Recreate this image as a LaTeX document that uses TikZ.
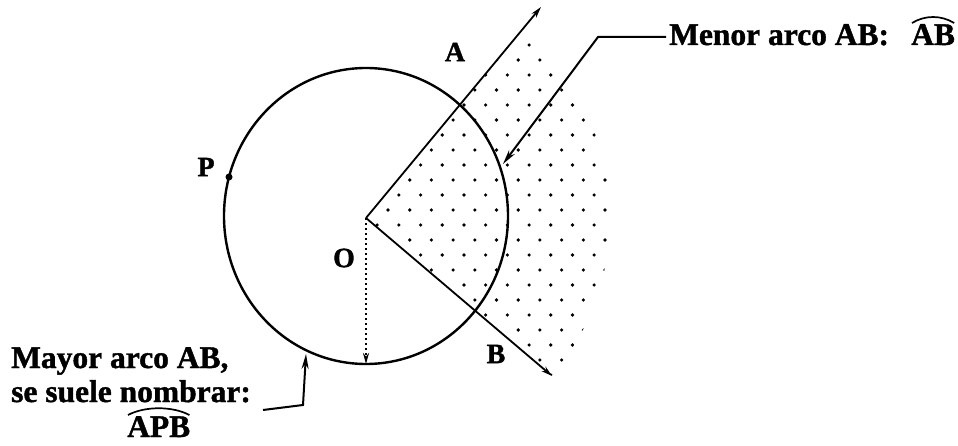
\documentclass[tikz,border=0pt]{standalone}
\usepackage{fontspec}
\setmainfont{Liberation Serif}[BoldFeatures={FakeBold=1.3}]
\usetikzlibrary{arrows.meta,calc}
\begin{document}
\begin{tikzpicture}[x=1pt,y=-1pt,
  txt/.style={font=\bfseries\fontsize{31.5}{36}\selectfont, inner sep=0pt},
  ptlabel/.style={font=\bfseries\fontsize{28}{32}\selectfont, inner sep=0pt},
  ray/.style={line width=1.8pt, -{Stealth[length=11pt,width=6pt]}},
  leader/.style={line width=2pt, -{Stealth[length=15pt,width=7pt]}},
  arcmark/.style={line width=1.7pt},
  dotfill/.style={fill=black}]
\useasboundingbox[fill=white] (0,0) rectangle (958,446);

% points
\coordinate (O) at (366,218);
\coordinate (C) at (366,216);
\coordinate (Atip) at (541,7);
\coordinate (Btip) at (552,376);
\coordinate (bottom) at (366,364);

% dotted sector
\begin{scope}
  \clip (O) -- ++(-50.3:244) arc[start angle=-50.3, end angle=40.3, radius=244] -- cycle;
  \foreach \j in {-13,...,13} {
    \foreach \i in {-1,...,12} {
      \fill[dotfill] ({388+21.7*\i+mod(\j,2)*10.85},{210+15*\j}) circle (1.8);
    }
  }
\end{scope}

% circle
\draw[line width=2.4pt] (C) ellipse [x radius=142, y radius=148];

% rays
\draw[ray] (O) -- (Atip);
\draw[ray] (O) -- (Btip);

% radius (dotted)
\draw[line width=2.6pt, dash pattern=on 2.4pt off 2.6pt, -{Stealth[length=11pt,width=6pt]}] (O) -- (bottom);

% point P
\fill (229,177) circle (3.5);
\node[ptlabel] (P) at (206,167) {P};
\node[ptlabel] (A) at (455,52) {A};
\node[ptlabel] (Olab) at (344,258) {O};
\node[ptlabel] (B) at (496,354) {B};

% minor arc label
\node[txt, anchor=base west] (menor) at (669,45) {Menor arco AB:};
\node[txt, anchor=base west] (ab) at (911,45) {AB};
\draw[arcmark] ($(ab.north west)+(1,-1)$) .. controls ($(ab.north west)+(14,-9)$) and ($(ab.north east)+(-14,-9)$) .. ($(ab.north east)+(-1,-1)$);
\coordinate (mk) at (598,37);
\coordinate (mtip) at (503,164);
\draw[leader] ([xshift=-3pt]menor.west |- mk) -- (mk) -- (mtip);

% major arc label
\node[txt, anchor=base west] (mayor1) at (11,368) {Mayor arco AB,};
\node[txt, anchor=base west] (mayor2) at (11,402) {se suele nombrar:};
\node[txt, anchor=base west] (apb) at (127,437) {APB};
\draw[arcmark] ($(apb.north west)+(1,-1)$) .. controls ($(apb.north west)+(18,-10)$) and ($(apb.north east)+(-18,-10)$) .. ($(apb.north east)+(-1,-1)$);
\coordinate (lk) at (303,405);
\coordinate (ltip) at (306,354);
\draw[leader] (263,410) coordinate (lstart) -- (lk) -- (ltip);
\end{tikzpicture}
\end{document}
